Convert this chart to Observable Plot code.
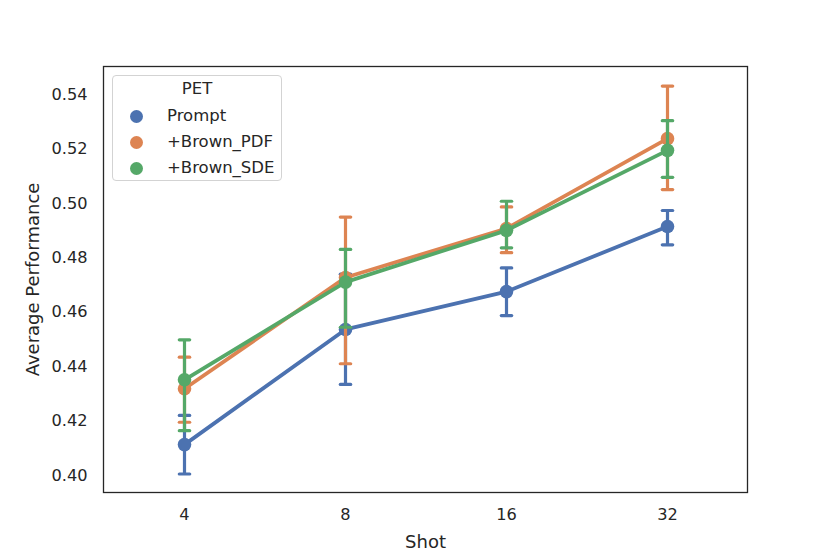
<!DOCTYPE html>
<html>
<head>
<meta charset="utf-8">
<script src="https://cdn.jsdelivr.net/npm/d3@7"></script>
<script src="https://cdn.jsdelivr.net/npm/@observablehq/plot@0.6"></script>
<style>
  body { margin: 0; background: #fff; }
  #wrap { position: relative; width: 830px; height: 554px; font-family: "DejaVu Sans", sans-serif; }
  #legend { position: absolute; left: 112px; top: 75px; width: 170px; height: 106px;
    border: 1px solid #d3d3d3; border-radius: 4px; background: rgba(255,255,255,0.85); box-sizing: border-box;
    color: #262626; font-size: 16.5px; }
  #legend .title { position: absolute; left: 0; width: 100%; top: 3px; text-align: center; }
  #legend .item { position: absolute; left: 0; height: 20px; line-height: 20px; }
  #legend .dot { position: absolute; left: 17px; top: 3.5px; width: 13px; height: 13px; border-radius: 50%; }
  #legend .lab { position: absolute; left: 54px; white-space: nowrap; }
</style>
</head>
<body>
<div id="wrap"></div>
<script>
const shots = ["4", "8", "16", "32"];
const seriesNames = ["Prompt", "+Brown_PDF", "+Brown_SDE"];
const colors = ["#4c72b0", "#dd8452", "#55a868"];
const promptMean = [0.4114, 0.4537, 0.4676, 0.4915];
const promptLo   = [0.4006, 0.4335, 0.4588, 0.4848];
const promptHi   = [0.4221, 0.4740, 0.4763, 0.4974];
const pdfMean    = [0.4319, 0.4728, 0.4908, 0.5238];
const pdfLo      = [0.4196, 0.4411, 0.4819, 0.5051];
const pdfHi      = [0.4435, 0.4950, 0.4987, 0.5431];
const sdeMean    = [0.4352, 0.4711, 0.4901, 0.5195];
const sdeLo      = [0.4165, 0.4545, 0.4837, 0.5096];
const sdeHi      = [0.4499, 0.4831, 0.5008, 0.5304];
const yTicks = [0.40, 0.42, 0.44, 0.46, 0.48, 0.50, 0.52, 0.54];

const table = [
  [promptMean, promptLo, promptHi],
  [pdfMean, pdfLo, pdfHi],
  [sdeMean, sdeLo, sdeHi]
].map(([m, lo, hi], s) => shots.map((shot, i) => ({series: seriesNames[s], shot, mean: m[i], lo: lo[i], hi: hi[i]})));

const capSymbol = {
  draw(context, size) {
    const r = Math.sqrt(size / Math.PI);
    context.moveTo(-r, 0);
    context.lineTo(r, 0);
  }
};

const marks = [];
table.forEach((rows, s) => {
  const c = colors[s];
  marks.push(Plot.line(rows, {x: "shot", y: "mean", stroke: c, strokeWidth: 3.8}));
  marks.push(Plot.ruleX(rows, {x: "shot", y1: "lo", y2: "hi", stroke: c, strokeWidth: 3.2}));
  marks.push(Plot.dot(rows, {x: "shot", y: "lo", symbol: capSymbol, r: 5.2, stroke: c, strokeWidth: 3.2, strokeLinecap: "round", fill: "none"}));
  marks.push(Plot.dot(rows, {x: "shot", y: "hi", symbol: capSymbol, r: 5.2, stroke: c, strokeWidth: 3.2, strokeLinecap: "round", fill: "none"}));
  marks.push(Plot.dot(rows, {x: "shot", y: "mean", r: 6.8, fill: c, stroke: "none"}));
});

const chart = Plot.plot({
  width: 830,
  height: 554,
  marginLeft: 103,
  marginRight: 83,
  marginTop: 66,
  marginBottom: 62,
  style: {fontFamily: "DejaVu Sans, sans-serif", fontSize: "16px", color: "#262626", background: "#fff"},
  x: {type: "point", domain: shots, padding: 0.5},
  y: {domain: [0.3938, 0.5503]},
  marks: [
    ...marks,
    Plot.frame({stroke: "#262626", strokeWidth: 1.3}),
    Plot.axisY(yTicks, {tickSize: 0, tickPadding: 16, tickFormat: d3.format(".2f"), fontSize: 16.2,
      label: "Average Performance", labelAnchor: "center", labelArrow: "none", labelOffset: 77}),
    Plot.axisX(shots, {tickSize: 0, tickPadding: 16, fontSize: 16.2,
      label: "Shot", labelAnchor: "center", labelArrow: "none", labelOffset: 55})
  ]
});
const wrap = document.getElementById("wrap");
wrap.appendChild(chart);
chart.querySelectorAll('[aria-label="y-axis label"] text, [aria-label="x-axis label"] text').forEach(t => t.setAttribute("font-size", "18"));

const legend = document.createElement("div");
legend.id = "legend";
legend.innerHTML = `<div class="title">PET</div>` + seriesNames.map((n, i) =>
  `<div class="item" style="top:${30 + i * 26}px"><span class="dot" style="background:${colors[i]}"></span><span class="lab">${n}</span></div>`).join("");
wrap.appendChild(legend);
</script>
</body>
</html>
